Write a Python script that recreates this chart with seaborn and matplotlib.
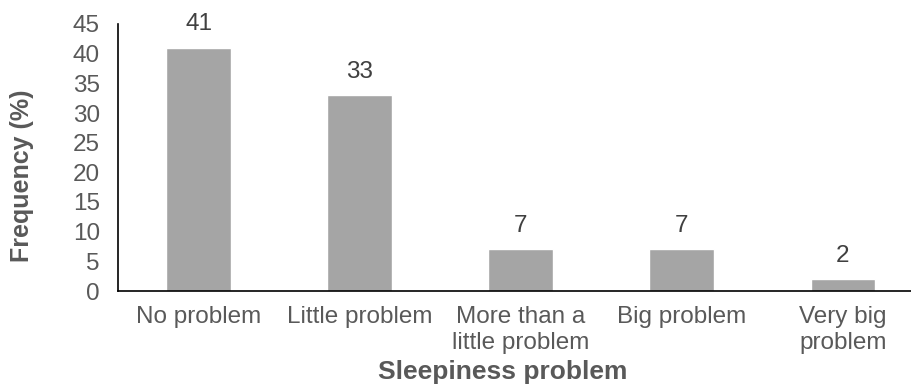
import matplotlib.pyplot as plt
import seaborn as sns
import pandas as pd

# Chart data
categories = ["No problem", "Little problem", "More than a\nlittle problem",
              "Big problem", "Very big\nproblem"]
frequency = [41, 33, 7, 7, 2]
y_ticks = [0, 5, 10, 15, 20, 25, 30, 35, 40, 45]

df = pd.DataFrame({"category": categories, "frequency": frequency})

sns.set_style("white")
plt.rcParams["font.family"] = ["Liberation Sans", "DejaVu Sans"]

text_col = "#595959"

fig = plt.figure(figsize=(9.12, 3.88), dpi=100)
ax = fig.add_axes([118 / 912, 1 - 291 / 388, 794 / 912, 267 / 388])

sns.barplot(data=df, x="category", y="frequency", color="#a5a5a5",
            width=0.4, saturation=1, ax=ax)

# value labels above bars
for i, v in enumerate(frequency):
    ax.annotate(str(v), (i, v), xytext=(0, 9), textcoords="offset points",
                ha="center", va="bottom", fontsize=17.5, color="#404040")

ax.set_ylim(0, 45)
ax.set_xlim(-0.5, 4.43)
ax.set_yticks(y_ticks)
ax.tick_params(axis="both", length=0, labelsize=17.5, labelcolor=text_col)
ax.tick_params(axis="x", pad=11)
ax.tick_params(axis="y", pad=13)

for s in ["top", "right"]:
    ax.spines[s].set_visible(False)
for s in ["left", "bottom"]:
    ax.spines[s].set_color("black")
    ax.spines[s].set_linewidth(1.2)

ax.set_xlabel("")
ax.set_ylabel("")
fig.text(503 / 912, 1 - 372 / 388, "Sleepiness problem", ha="center", va="center",
         fontsize=19, fontweight="bold", color=text_col)
fig.text(22 / 912, 1 - 176 / 388, "Frequency (%)", ha="center", va="center",
         rotation=90, fontsize=18, fontweight="bold", color=text_col)

plt.savefig("out.png", dpi=100)
